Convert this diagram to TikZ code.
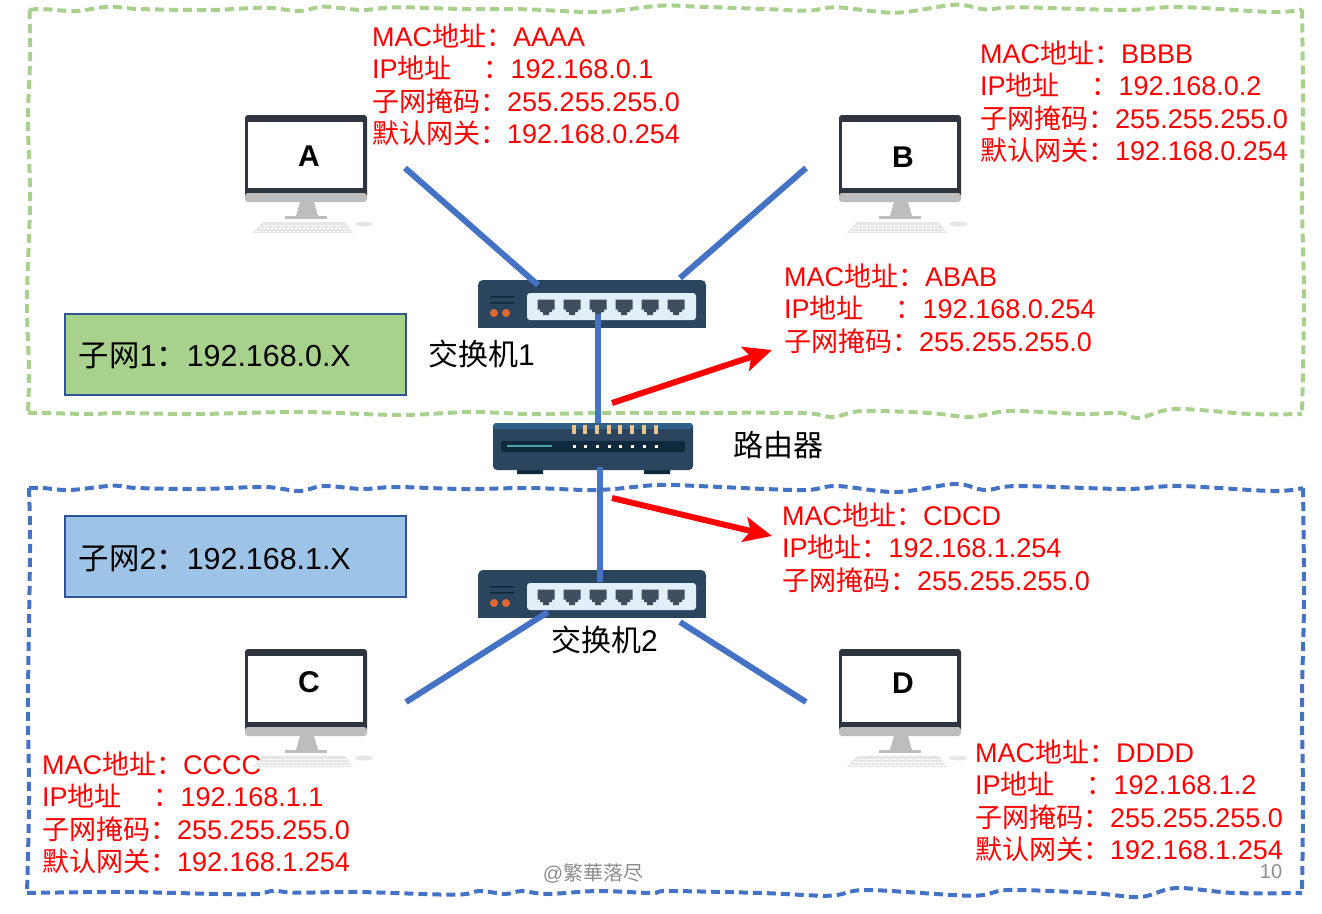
\documentclass[tikz,border=0pt]{standalone}
\usepackage{fontspec}
\usetikzlibrary{arrows.meta}
\setmainfont{Liberation Sans}
\newfontfamily\cjk{Noto Sans CJK SC}
\newcommand{\zh}[1]{{\cjk #1}}
\definecolor{gborder}{HTML}{A9D18E}
\definecolor{bborder}{HTML}{4472C4}
\definecolor{boxedge}{HTML}{2F5597}
\definecolor{skyfill}{HTML}{9DC3E6}
\definecolor{navy}{HTML}{2B455E}
\definecolor{navytop}{HTML}{2F5F86}
\definecolor{slot}{HTML}{0E2A3C}
\definecolor{panel}{HTML}{E2EFF8}
\definecolor{portc}{HTML}{3F4D5E}
\definecolor{ledo}{HTML}{E0692F}
\definecolor{tan}{HTML}{E8C48E}
\definecolor{bezel}{HTML}{2E3440}
\definecolor{chin}{HTML}{BDBDBD}
\definecolor{keyb}{HTML}{E6E6E6}
\definecolor{wm}{HTML}{8C8C8C}
\tikzset{
  x=1pt,y=-1pt,
  info/.style={anchor=north west,inner sep=0pt,align=left,text=red,font=\fontsize{27}{32.5}\selectfont},
  caption/.style={inner sep=0pt,font=\fontsize{30}{34}\selectfont},
  nettext/.style={inner sep=0pt,anchor=west,font=\fontsize{30.4}{34}\selectfont},
  letter/.style={inner sep=0pt,font=\fontsize{30}{34}\selectfont\bfseries},
  mark box/.style={anchor=north west,inner sep=0pt,minimum width=341pt,minimum height=81pt,draw=boxedge,line width=2pt},
  link/.style={draw=bborder,line width=6pt},
  redarrow/.style={draw=red,line width=6pt,-{Stealth[length=28pt,width=25pt,inset=6pt]}},
  wavy/.style={line width=4pt,dash pattern=on 9pt off 5pt},
  computer/.pic={
    \fill[bezel,rounded corners=3pt] (0,0) rectangle (122,84);
    \fill[chin,rounded corners=3pt] (0,78) rectangle (122,87);
    \fill[white] (3,7) rectangle (118,73);
    \fill[chin] (55,87) -- (69,87) -- (73,101) -- (51,101) -- cycle;
    \fill[chin] (40,101) rectangle (82,104);
    \fill[keyb] (18,107) -- (100,107) -- (108,118) -- (8,118) -- cycle;
    \draw[white,line width=0.8pt,dash pattern=on 2.5pt off 1.5pt] (18,110) -- (101,110) (14,113) -- (104,113) (11,116) -- (106,116);
    \fill[keyb] (119,109) ellipse (9pt and 2.5pt);
  },
  switchbox/.pic={
    \fill[navy] (0,6) rectangle (228,48);
    \fill[navy,rounded corners=5pt] (0,0) rectangle (228,14);
    \fill[panel,rounded corners=3pt] (49,13) rectangle (218,40);
    \fill[slot] (12,16) rectangle (36,17.5) (12,22) rectangle (36,23.5);
    \fill[ledo] (16,33) circle (4pt) (28,33) circle (4pt);
    \foreach \px in {68,94,120,146,172,198}{
      \fill[portc] (\px-8.5,19.5) -- (\px+8.5,19.5) -- (\px+8.5,29.5) -- (\px+6,29.5) -- (\px+6,32) -- (\px+3,32) -- (\px+3,35) -- (\px-3,35) -- (\px-3,32) -- (\px-6,32) -- (\px-6,29.5) -- (\px-8.5,29.5) -- cycle;
    }
  },
  routerbox/.pic={
    \fill[slot] (24,46) rectangle (50,51) (151,46) rectangle (177,51);
    \fill[navy,rounded corners=4pt] (0,0) rectangle (200,47);
    \fill[navytop,rounded corners=3pt] (0,0) rectangle (200,6);
    \fill[slot,rounded corners=2pt] (8,18) rectangle (192,29);
    \fill[teal!70!white] (14,21.5) rectangle (59,24);
    \foreach \px in {81,92,104,116,127,139,151,163}{
      \fill[tan] (\px-2,2) rectangle (\px+2,10.5);
      \fill[white] (\px-1.5,21.5) rectangle (\px+1.5,24.5);
    }
  }
}
\begin{document}
\begin{tikzpicture}
\useasboundingbox (0,0) rectangle (1322,913);
% subnet outlines
\draw[wavy,draw=gborder]
  plot[smooth,tension=0.55] coordinates {(29.5,10)(42,9)(76,11)(109,6.7)(139,9)(210,10)(265,7.7)(299,11)(324,6.7)(362,10)(396,7.3)(463,9)(526,9.3)(598,12)(660,5.7)(698,6.7)(765,9)(808,10.7)(837,7.3)(896,12.7)(955,4.7)(985,9.3)(1018,7.3)(1124,10)(1179,7)(1272,12)(1302,9.5)}
  plot[smooth,tension=0.55] coordinates {(1302,9.5)(1303,100)(1302,200)(1304,300)(1302,414)}
  plot[smooth,tension=0.55] coordinates {(28,413)(40,413)(93,414)(117,413)(197,414)(300,412)(400,415)(470,412)(530,414)(600,413)(660,413)(799,413)(833,417)(862,411)(930,413)(970,417)(1010,411)(1082,414)(1120,413)(1139,418)(1175,409)(1251,414)(1302,414)}
  plot[smooth,tension=0.55] coordinates {(29.5,10)(30,60)(28,120)(30,200)(27,300)(29,370)(28,413)};
\draw[wavy,draw=bborder]
  plot[smooth,tension=0.55] coordinates {(29,488)(43,488)(70,490)(113,485.7)(137,488)(200,489)(265,487)(299,491)(324,486)(362,489)(396,487)(463,489)(530,488)(597,490)(657,485)(698,486)(765,489)(808,490)(837,486)(896,492)(955,484)(985,490)(1018,486)(1124,489)(1179,486)(1272,491)(1303,488)}
  plot[smooth,tension=0.55] coordinates {(1303,488)(1304,600)(1302,700)(1303,800)(1302,893)}
  plot[smooth,tension=0.55] coordinates {(27,893)(42,892.7)(126,892)(219,894)(257,894)(274,890.7)(295,892.7)(358,892)(455,894.7)(480,891)(505,894)(522,891)(547,894)(598,891)(652,893)(668,891)(762,893)(830,895.7)(867,890)(972,895.7)(1009,890)(1092,893)(1140,897)(1176,888)(1234,893)(1302,893)}
  plot[smooth,tension=0.55] coordinates {(29,488)(30,550)(28,700)(29,800)(27,893)};
% devices
\pic (pcA) at (245,115) {computer};
\pic (pcB) at (839,115) {computer};
\pic (pcC) at (245,649) {computer};
\pic (pcD) at (839,649) {computer};
\pic (sw1) at (478,280) {switchbox};
\pic (sw2) at (478,570) {switchbox};
\pic (rt) at (493,423) {routerbox};
% link anchors
\coordinate (aEnd) at (405,168);
\coordinate (aSw) at (538,285);
\coordinate (bEnd) at (806,168);
\coordinate (bSw) at (680,278);
\coordinate (sOneDown) at (598,314);
\coordinate (rtTop) at (598,423);
\coordinate (rtBottom) at (600,467);
\coordinate (sTwoUp) at (600,582);
\coordinate (cEnd) at (406,702);
\coordinate (cSw) at (548,612);
\coordinate (dEnd) at (806,702);
\coordinate (dSw) at (680,622);
\coordinate (upStart) at (612,403);
\coordinate (upTip) at (772,350);
\coordinate (loStart) at (612,498);
\coordinate (loTip) at (772,536);
\draw[link] (aEnd) -- (aSw);
\draw[link] (bEnd) -- (bSw);
\draw[link] (sOneDown) -- (rtTop);
\draw[link] (rtBottom) -- (sTwoUp);
\draw[link] (cEnd) -- (cSw);
\draw[link] (dEnd) -- (dSw);
\draw[redarrow] (upStart) -- (upTip);
\draw[redarrow] (loStart) -- (loTip);
% computer letters
\node[letter] (lA) at (309,156.5) {A};
\node[letter] (lB) at (903,157.5) {B};
\node[letter] (lC) at (309,682.5) {C};
\node[letter] (lD) at (903,683.5) {D};
% captions
\node[caption] (capS1) at (481.5,354) {\zh{交换机}1};
\node[caption] (capR) at (778.5,445) {\zh{路由器}};
\node[caption] (capS2) at (604.5,640) {\zh{交换机}2};
% subnet labels
\node[mark box,fill=gborder] (net1) at (64,313) {};
\node[nettext] (net1t) at (78.5,355.5) {\zh{子网}1\zh{：}192.168.0.X};
\node[mark box,fill=skyfill] (net2) at (64,515) {};
\node[nettext] (net2t) at (78.5,558.5) {\zh{子网}2\zh{：}192.168.1.X};
% address blocks
\node[info] (iA) at (372,23.5) {MAC\zh{地址：}AAAA\\IP\zh{地址}\hspace*{32pt}\zh{：}192.168.0.1\\\zh{子网掩码：}255.255.255.0\\\zh{默认网关：}192.168.0.254};
\node[info] (iB) at (980,40.5) {MAC\zh{地址：}BBBB\\IP\zh{地址}\hspace*{32pt}\zh{：}192.168.0.2\\\zh{子网掩码：}255.255.255.0\\\zh{默认网关：}192.168.0.254};
\node[info] (iR1) at (784,263.5) {MAC\zh{地址：}ABAB\\IP\zh{地址}\hspace*{32pt}\zh{：}192.168.0.254\\\zh{子网掩码：}255.255.255.0};
\node[info] (iR2) at (782,502.5) {MAC\zh{地址：}CDCD\\IP\zh{地址：}192.168.1.254\\\zh{子网掩码：}255.255.255.0};
\node[info] (iC) at (42,751.5) {MAC\zh{地址：}CCCC\\IP\zh{地址}\hspace*{32pt}\zh{：}192.168.1.1\\\zh{子网掩码：}255.255.255.0\\\zh{默认网关：}192.168.1.254};
\node[info] (iD) at (975,739.5) {MAC\zh{地址：}DDDD\\IP\zh{地址}\hspace*{32pt}\zh{：}192.168.1.2\\\zh{子网掩码：}255.255.255.0\\\zh{默认网关：}192.168.1.254};
% footer
\node[inner sep=0pt,text=wm,font=\fontsize{20}{24}\selectfont] (mark) at (593,873) {@\zh{繁華落尽}};
\node[inner sep=0pt,text=wm,font=\fontsize{20}{24}\selectfont] (page) at (1271,872) {10};
\end{tikzpicture}
\end{document}
